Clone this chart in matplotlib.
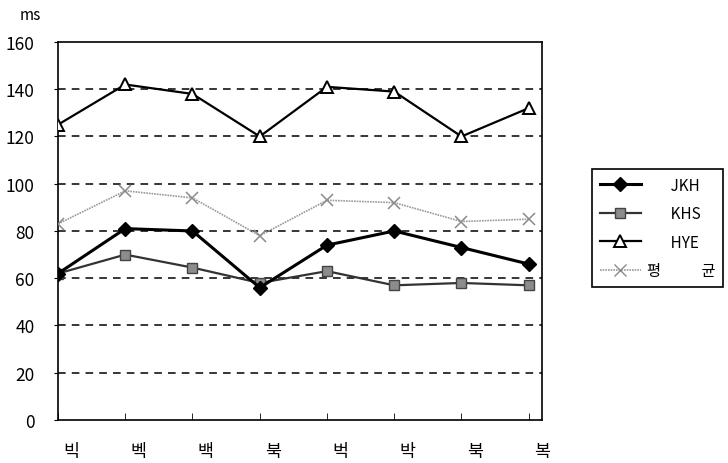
import matplotlib.pyplot as plt
from matplotlib.lines import Line2D

plt.rcParams['font.family'] = ['Noto Sans CJK KR', 'DejaVu Sans']

categories = ['빅', '벡', '백', '북', '벅', '박', '북', '복']
jkh = [62, 81, 80, 56, 74, 80, 73, 66]
khs = [62, 70, 64.5, 58, 63, 57, 58, 57]
hye = [125, 142, 138, 120, 141, 139, 120, 132]
avg = [83, 97, 94, 78, 93, 92, 84, 85]
y_ticks = [0, 20, 40, 60, 80, 100, 120, 140, 160]

fig = plt.figure(figsize=(7.28, 4.64), dpi=100)
ax = fig.add_axes([0.0797, 0.0927, 0.665, 0.8147])

x = list(range(len(categories)))

# grid lines
for v in y_ticks[1:-1]:
    ax.axhline(v, color='black', lw=1.1, ls=(0, (5, 4)), zorder=1)

ax.plot(x, avg, color='#9a9a9a', lw=1.2, ls=(0, (1, 0.6)), marker='x', ms=9,
        mew=1.1, mec='#8a8a8a', zorder=3)
ax.plot(x, khs, color='#333333', lw=1.6, marker='s', ms=7, mfc='#8c8c8c',
        mec='#444444', mew=1, zorder=4)
ax.plot(x, jkh, color='black', lw=2.2, marker='D', ms=7, mfc='black',
        mec='black', zorder=5)
ax.plot(x, hye, color='black', lw=1.6, marker='^', ms=9, mfc='white',
        mec='black', mew=1.4, zorder=6)

ax.set_xlim(0, len(categories) - 1)
ax.set_ylim(0, 160)
ax.set_yticks(y_ticks)
ax.tick_params(axis='y', length=3, labelsize=12.5, pad=14)

# category labels sit slightly right of the tick marks
ax.set_xticks([i + 0.2 for i in x])
ax.set_xticklabels(categories, fontsize=12.5)
ax.set_xticks(x, minor=True)
ax.tick_params(axis='x', which='major', length=0, pad=16)
ax.tick_params(axis='x', which='minor', length=5, direction='in')

for s in ax.spines.values():
    s.set_linewidth(1.2)

fig.text(0.027, 0.967, 'ms', fontsize=11, ha='left', va='center')

handles = [
    Line2D([], [], color='black', lw=2.2, marker='D', ms=7, mfc='black'),
    Line2D([], [], color='#333333', lw=1.6, marker='s', ms=7, mfc='#8c8c8c', mec='#444444'),
    Line2D([], [], color='black', lw=1.6, marker='^', ms=9, mfc='white', mec='black', mew=1.4),
    Line2D([], [], color='#9a9a9a', lw=1.2, ls=(0, (1, 0.6)), marker='x', ms=9, mec='#8a8a8a'),
]
labels = ['       JKH', '       KHS', '       HYE', '평            균']
leg = fig.legend(handles, labels, loc='upper left', bbox_to_anchor=(0.803, 0.65),
                 fancybox=False, edgecolor='black', framealpha=1, fontsize=11,
                 handlelength=2.7, labelspacing=0.75, borderpad=0.5, handletextpad=0.4)
leg.get_frame().set_linewidth(1.2)

fig.savefig('out.png', dpi=100)
